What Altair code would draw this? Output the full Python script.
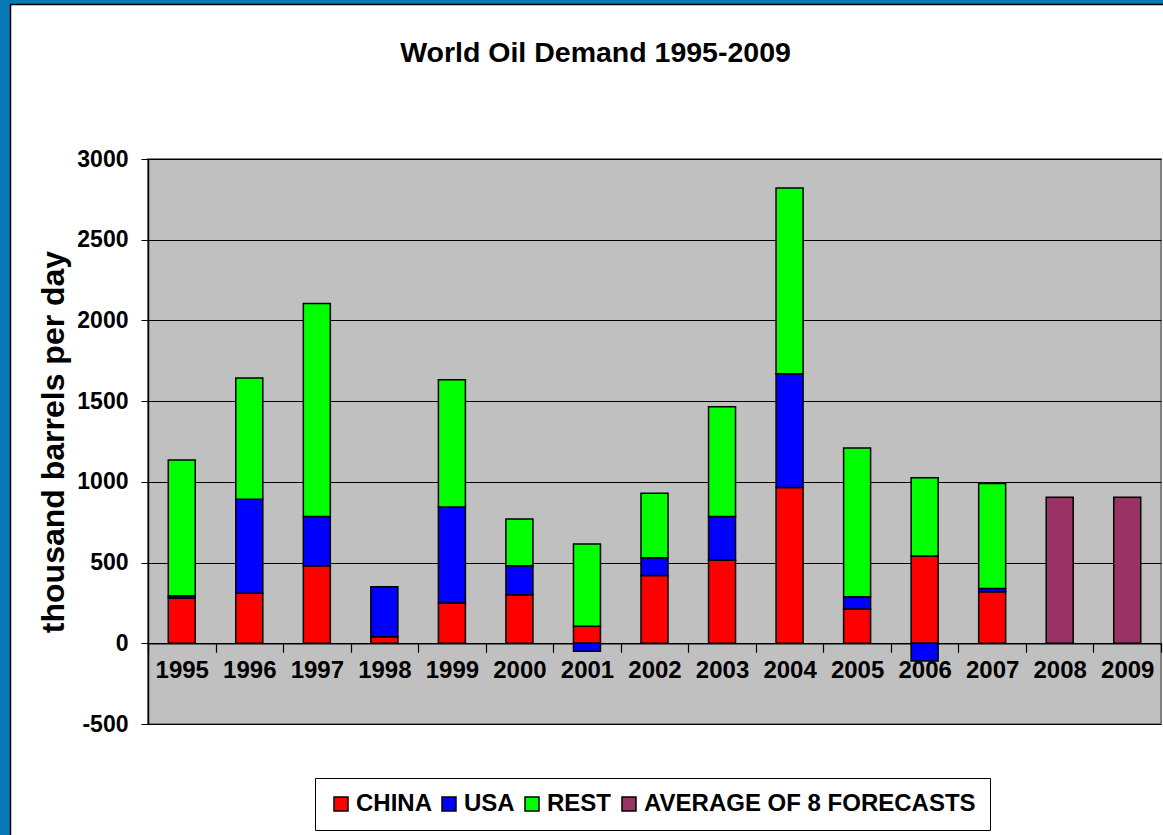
import altair as alt
import pandas as pd

# Year-on-year change in oil demand, thousand barrels per day
years = ["1995", "1996", "1997", "1998", "1999", "2000", "2001", "2002",
         "2003", "2004", "2005", "2006", "2007", "2008", "2009"]
china = [280, 310, 480, 40, 250, 300, 105, 420, 515, 965, 213, 540, 320, None, None]
usa = [15, 582, 305, 310, 595, 180, -50, 110, 270, 705, 76, -110, 20, None, None]
rest = [840, 752, 1320, 0, 787, 290, 510, 400, 680, 1150, 920, 485, 650, None, None]
forecast = [None] * 13 + [905, 905]

series = ["CHINA", "USA", "REST", "AVERAGE OF 8 FORECASTS"]
colors = ["#FF0000", "#0000FF", "#00FF00", "#993366"]
y_ticks = [-500, 0, 500, 1000, 1500, 2000, 2500, 3000]

rows = []
for i, yr in enumerate(years):
    for k, vals in enumerate([china, usa, rest, forecast]):
        v = vals[i]
        if v:
            rows.append({"year": yr, "series": series[k], "rank": k, "value": v})
df = pd.DataFrame(rows)

W, H = 1013, 565
Y_MIN, Y_MAX = -500, 3000
zero_offset = -H * (0 - Y_MIN) / (Y_MAX - Y_MIN)

SANS = "Liberation Sans, Arial, sans-serif"
FRAME = "#0779B7"

bars = alt.Chart(df).mark_bar(size=27, stroke="black", strokeWidth=1.5).encode(
    x=alt.X(
        "year:N",
        sort=years,
        scale=alt.Scale(paddingInner=0, paddingOuter=0),
        axis=alt.Axis(
            title=None, labelAngle=0, offset=zero_offset, tickBand="extent",
            domainColor="black", domainWidth=1.5, tickColor="black", tickSize=9,
            tickWidth=1.2, labelFont=SANS, labelFontSize=24, labelFontWeight="bold",
            labelColor="black", labelPadding=6, labelBaseline="top",
        ),
    ),
    y=alt.Y(
        "value:Q",
        stack="zero",
        scale=alt.Scale(domain=[Y_MIN, Y_MAX], nice=False, zero=False),
        axis=alt.Axis(
            values=y_ticks, labelExpr="'' + datum.value",
            title="thousand barrels per day", grid=True,
            gridColor="black", gridWidth=1, domainColor="black", domainWidth=1.5,
            tickColor="black", tickSize=7, labelPadding=13, labelFont=SANS,
            labelFontSize=23, labelFontWeight="bold", labelColor="black",
            titleFont=SANS, titleFontSize=32, titleFontWeight="bold",
            titleColor="black", titlePadding=6,
        ),
    ),
    color=alt.Color(
        "series:N",
        scale=alt.Scale(domain=series, range=colors),
        legend=alt.Legend(
            title=None, orient="none", legendX=167, legendY=619,
            direction="horizontal", columns=4, strokeColor="black",
            fillColor="white", padding=14, symbolType="square", symbolSize=196,
            symbolStrokeColor="black", symbolStrokeWidth=1.5, symbolOpacity=1,
            labelFont=SANS, labelFontSize=24, labelFontWeight="bold",
            labelColor="black", labelOffset=3, columnPadding=5, labelLimit=400,
        ),
    ),
    order=alt.Order("rank:Q"),
)

blank = alt.Data(values=[{}])
frame_left = alt.Chart(blank).mark_rect(color=FRAME).encode(
    x=alt.value(-148), x2=alt.value(-138), y=alt.value(-159), y2=alt.value(H + 111)
)
frame_top = alt.Chart(blank).mark_rect(color=FRAME).encode(
    x=alt.value(-148), x2=alt.value(W + 2), y=alt.value(-159), y2=alt.value(-155)
)
edge_left = alt.Chart(blank).mark_rule(color="black", strokeWidth=1.5).encode(
    x=alt.value(-137.5), y=alt.value(-155), y2=alt.value(H + 111)
)
edge_top = alt.Chart(blank).mark_rule(color="black", strokeWidth=1.5).encode(
    x=alt.value(-138), x2=alt.value(W + 2), y=alt.value(-154.5)
)

chart = alt.layer(frame_left, frame_top, edge_left, edge_top, bars).properties(
    width=W,
    height=H,
    padding={"left": 148, "top": 159, "right": 2, "bottom": 111},
    autosize=alt.AutoSizeParams(type="none"),
    background="white",
    title=alt.TitleParams(
        "World Oil Demand 1995-2009", font=SANS, fontSize=28.5, fontWeight="bold",
        color="black", anchor="middle", frame="group", dx=-59, offset=22, dy=89,
    ),
).configure_view(
    fill="#C0C0C0", stroke="#808080", strokeWidth=2
)

chart.save("out.html", embed_options={"renderer": "svg", "actions": False})
